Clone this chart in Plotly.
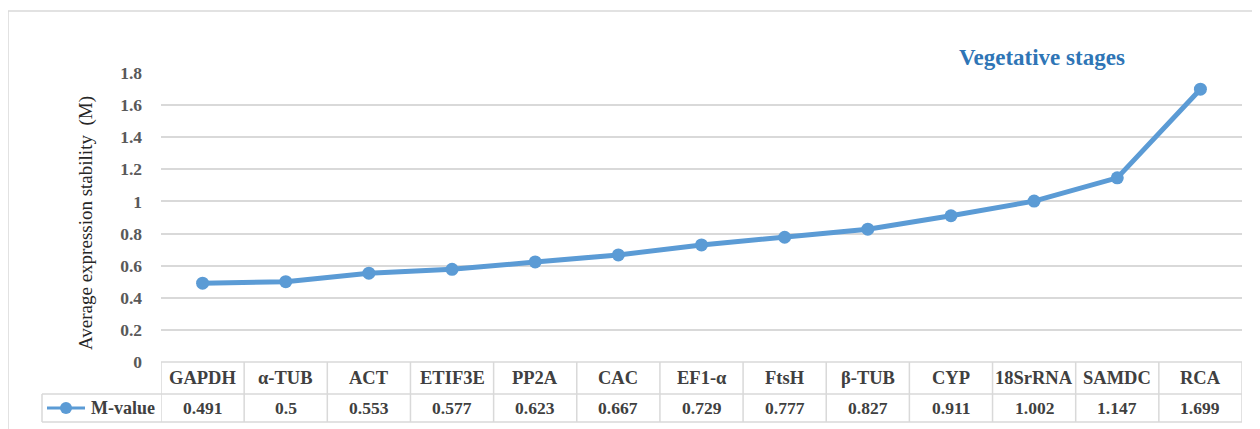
import plotly.graph_objects as go

genes = ["GAPDH", "α-TUB", "ACT", "ETIF3E", "PP2A", "CAC", "EF1-α", "FtsH",
         "β-TUB", "CYP", "18SrRNA", "SAMDC", "RCA"]
m_values = [0.491, 0.5, 0.553, 0.577, 0.623, 0.667, 0.729, 0.777, 0.827,
            0.911, 1.002, 1.147, 1.699]
y_ticks = [0, 0.2, 0.4, 0.6, 0.8, 1, 1.2, 1.4, 1.6, 1.8]
y_tick_text = ["0", "0.2", "0.4", "0.6", "0.8", "1", "1.2", "1.4", "1.6", "1.8"]
series_name = "M-value"
title_text = "Vegetative stages"
y_title = "Average expression stability  (M)"

# the page body adds an 8px offset, so the figure is 8px smaller and shifted
OFF = 8
W, H = 1260 - OFF, 429 - OFF
ML, MT = 161 - OFF, 73 - OFF
MR = W - (1242 - OFF)
MB = H - (362 - OFF)
PW, PH = W - ML - MR, H - MT - MB

def px_x(p):
    return (p - OFF - ML) / PW

def px_y(p):
    return (H - MB - (p - OFF)) / PH

LINE = "#5B9BD5"
GRID = "#D9D9D9"
TXT = "#404040"
SERIF = "Liberation Serif, Times New Roman, serif"

xs = list(range(len(genes)))
fig = go.Figure()
fig.add_trace(go.Scatter(
    x=xs, y=m_values, mode="lines+markers", name=series_name,
    line=dict(color=LINE, width=5), marker=dict(color=LINE, size=13),
    showlegend=False, hoverinfo="x+y"))

row1_bot = px_y(394)
row2_bot = px_y(422)
leg_left = px_x(42)
shapes = []
shapes.append(dict(type="line", xref="paper", yref="paper", x0=0, x1=1, y0=0, y1=0,
                   line=dict(color=GRID, width=1.5)))
shapes.append(dict(type="line", xref="paper", yref="paper", x0=leg_left, x1=1,
                   y0=row1_bot, y1=row1_bot, line=dict(color=GRID, width=1.5)))
shapes.append(dict(type="line", xref="paper", yref="paper", x0=leg_left, x1=1,
                   y0=row2_bot, y1=row2_bot, line=dict(color=GRID, width=1.5)))
shapes.append(dict(type="line", xref="paper", yref="paper", x0=leg_left, x1=leg_left,
                   y0=row1_bot, y1=row2_bot, line=dict(color=GRID, width=1.5)))
for i in range(len(genes) + 1):
    shapes.append(dict(type="line", xref="x", yref="paper", x0=i - 0.5, x1=i - 0.5,
                       y0=0, y1=row2_bot, line=dict(color=GRID, width=1.5)))
leg_y = px_y(408)
shapes.append(dict(type="line", xref="paper", yref="paper", x0=px_x(47), x1=px_x(85),
                   y0=leg_y, y1=leg_y, line=dict(color=LINE, width=3)))
shapes.append(dict(type="circle", xref="paper", yref="paper", xsizemode="pixel",
                   ysizemode="pixel", xanchor=px_x(66), yanchor=leg_y,
                   x0=-6, x1=6, y0=-6, y1=6, fillcolor=LINE, line=dict(width=0)))
shapes.append(dict(type="line", xref="paper", yref="paper", x0=px_x(8), x1=px_x(8),
                   y0=px_y(11), y1=px_y(440), line=dict(color=GRID, width=1.5)))
shapes.append(dict(type="line", xref="paper", yref="paper", x0=px_x(8), x1=px_x(1270),
                   y0=px_y(11), y1=px_y(11), line=dict(color=GRID, width=1.5)))

ann = []
for i, (g, v) in enumerate(zip(genes, m_values)):
    ann.append(dict(x=i, y=px_y(378), xref="x", yref="paper", text=f"<b>{g}</b>",
                    showarrow=False, font=dict(family=SERIF, size=18.5, color=TXT),
                    xanchor="center", yanchor="middle"))
    ann.append(dict(x=i, y=px_y(408), xref="x", yref="paper", text=f"<b>{v:g}</b>",
                    showarrow=False, font=dict(family=SERIF, size=17.5, color=TXT),
                    xanchor="center", yanchor="middle"))
ann.append(dict(x=px_x(89), y=px_y(408), xref="paper", yref="paper",
                text=f"<b>{series_name}</b>", showarrow=False,
                font=dict(family=SERIF, size=18, color=TXT), xanchor="left",
                yanchor="middle"))
ann.append(dict(x=px_x(1042), y=px_y(57), xref="paper", yref="paper",
                text=f"<b>{title_text}</b>", showarrow=False,
                font=dict(family=SERIF, size=23, color="#2E75B6"), xanchor="center",
                yanchor="middle"))
ann.append(dict(x=px_x(86), y=px_y(223), xref="paper", yref="paper", text=y_title,
                showarrow=False, textangle=-90,
                font=dict(family=SERIF, size=19, color="#262626"), xanchor="center",
                yanchor="middle"))

fig.update_layout(
    width=W, height=H, margin=dict(l=ML, r=MR, t=MT, b=MB),
    paper_bgcolor="white", plot_bgcolor="white",
    shapes=shapes, annotations=ann,
    xaxis=dict(range=[-0.5, len(genes) - 0.5], showgrid=False, zeroline=False,
               showticklabels=False, showline=False, ticks=""),
    yaxis=dict(range=[0, 1.8], tickvals=y_ticks,
               ticktext=[f"<b>{t}</b>" for t in y_tick_text],
               showgrid=True, gridcolor=GRID, gridwidth=1.5, zeroline=False,
               showline=False, ticks="", ticklabelstandoff=18,
               tickfont=dict(family=SERIF, size=17.5, color="#595959")),
)
fig.write_html("out.html")
